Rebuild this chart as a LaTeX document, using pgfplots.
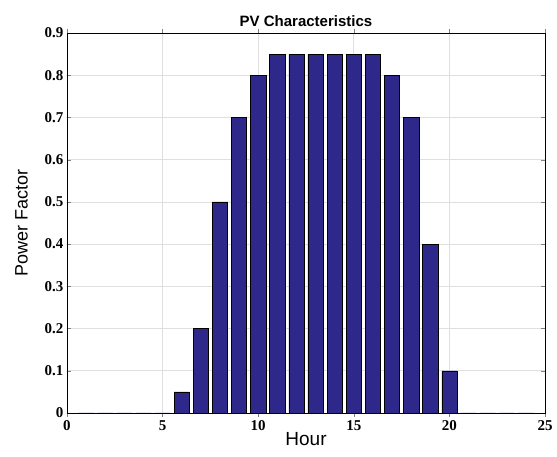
\documentclass[border=0pt]{standalone}
\usepackage{pgfplots}
\pgfplotsset{compat=1.18}
\usepackage{fontspec}
\setmainfont{Liberation Serif}
\newfontfamily\arial{Liberation Sans}
\definecolor{barblue}{RGB}{46,40,138}
\begin{document}
\begin{tikzpicture}
\begin{axis}[
  name=ax,
  scale only axis,
  width=478pt, height=380pt,
  xmin=0, xmax=25, ymin=0, ymax=0.9,
  xtick={0,5,...,25},
  ytick={0,0.1,...,0.9},
  /pgf/number format/assume math mode=true,
  yticklabel style={/pgf/number format/fixed, /pgf/number format/precision=1},
  ticklabel style={font=\fontsize{15}{17}\selectfont\bfseries},
  tick align=inside,
  xtick pos=both, ytick pos=both,
  major tick length=4pt,
  grid=major,
  grid style={gray!25, line width=0.6pt},
  axis line style={black, line width=0.8pt},
  title={\arial\bfseries\fontsize{15}{17}\selectfont PV Characteristics},
  title style={yshift=-3pt},
  xlabel={\arial\fontsize{19}{21}\selectfont Hour},
  ylabel={\arial\fontsize{18}{20}\selectfont Power Factor},
  xlabel style={yshift=5pt},
  ylabel style={yshift=10pt},
  ybar, bar width=0.8,
]
\addplot[fill=barblue, draw=black, line width=0.5pt] coordinates {
 (1,0) (2,0) (3,0) (4,0) (5,0)
 (6,0.05) (7,0.2) (8,0.5) (9,0.7) (10,0.8)
 (11,0.85) (12,0.85) (13,0.85) (14,0.85) (15,0.85) (16,0.85)
 (17,0.8) (18,0.7) (19,0.4) (20,0.1)
 (21,0) (22,0) (23,0) (24,0)
};
\end{axis}
\pgfresetboundingbox
\path[use as bounding box] ([shift={(-67pt,-44pt)}]ax.south west) rectangle ([shift={(12pt,33pt)}]ax.north east);
\end{tikzpicture}
\end{document}
